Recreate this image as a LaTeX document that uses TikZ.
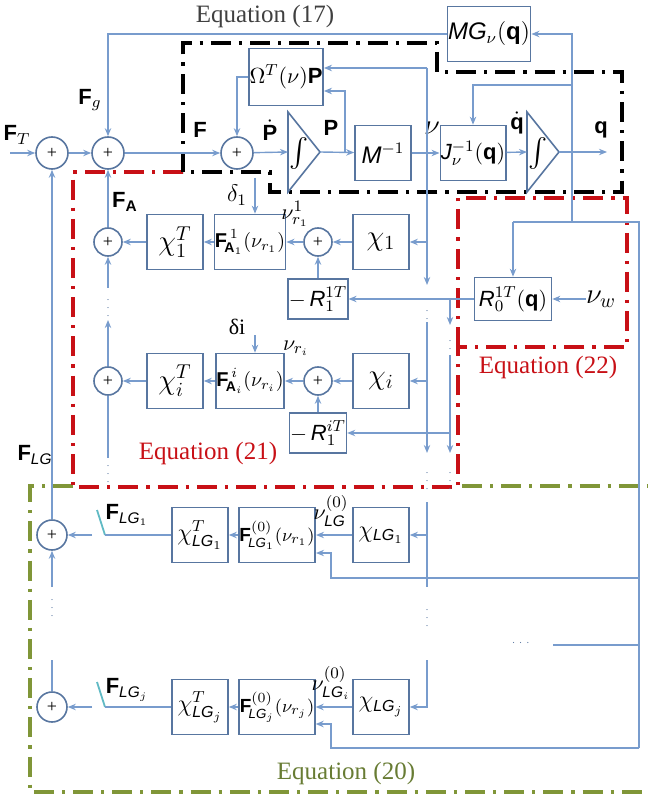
\documentclass[tikz,border=0pt]{standalone}
\usepackage{amsmath}
\usepackage{fontspec}
\setmainfont{Liberation Serif}
\newfontfamily\arialfont{Liberation Sans}
\usetikzlibrary{positioning,arrows.meta,calc}

\definecolor{wireblue}{RGB}{120,156,205}
\definecolor{boxblue}{RGB}{88,118,160}
\definecolor{eqred}{RGB}{200,16,22}
\definecolor{eqgreen}{RGB}{128,150,56}
\definecolor{eqtextgreen}{RGB}{104,124,52}
\definecolor{switchcol}{RGB}{96,186,196}

\newcommand{\bv}[1]{\text{\arialfont\bfseries #1}}
\newcommand{\si}[1]{\text{\arialfont\itshape #1}}

\begin{document}
\begin{tikzpicture}[x=0.5pt, y=-0.5pt,
    font=\fontsize{11}{13}\selectfont,
    blk/.style={draw=boxblue, line width=0.8pt, fill=white, minimum width=#1,
                minimum height=27.5pt, inner sep=0.3pt},
    blk/.default=28pt,
    sumnode/.style={circle, draw=boxblue, line width=0.8pt, fill=white,
                    minimum size=#1, inner sep=0pt, font=\small},
    sumnode/.default=14pt,
    integline/.style={draw=boxblue, line width=0.8pt, fill=white},
    wire/.style={draw=wireblue, line width=0.7pt},
    arr/.style={wire, -{Stealth[length=4pt, width=3.2pt]}},
    lbl/.style={inner sep=0pt},
    vdotsn/.style={inner sep=0pt, text=boxblue, font=\tiny},
    eqline/.style={line width=1.6pt, dash pattern=on 10pt off 4pt on 1.6pt off 4pt},
    eqlabel/.style={inner sep=0pt, font=\fontsize{12.5}{15}\selectfont},
    smallmath/.style={font=\fontsize{10}{12}\selectfont},
  ]
  \useasboundingbox (0,0) rectangle (650,796);

  % equation frames
  \draw[eqline, eqgreen] (73,486) -- (30,486) -- (30,792) -- (648,792);
  \draw[eqline, eqgreen] (462,486) -- (648,486);
  \draw[eqline, eqred] (183,172) -- (73,172) -- (73,487) -- (458,487) -- (458,347);
  \draw[eqline, eqred] (458,347) -- (458,198) -- (627,198) -- (627,347) -- cycle;
  \draw[eqline, black] (183,172) -- (183,43) -- (437,43) -- (437,72) -- (622,72)
      -- (622,192) -- (270,192) -- (270,172) -- cycle;

  \node[eqlabel, text=black!75] (eq17) at (265,16) {Equation (17)};
  \node[eqlabel, text=eqred] (eq22) at (548,367) {Equation (22)};
  \node[eqlabel, text=eqred] (eq21) at (208,453) {Equation (21)};
  \node[eqlabel, text=eqtextgreen] (eq20) at (346,773) {Equation (20)};

  % top loop
  \node[sumnode=16pt] (s1) at (52,153) {+};
  \node[sumnode=16pt] (s2) at (108,153) {+};
  \node[sumnode=16pt] (s3) at (237,153) {+};
  \coordinate (int1in) at (288,152);
  \coordinate (int1out) at (320,152);
  \draw[integline] (288,112) -- (int1out) -- (288,192) -- cycle;
  \node[lbl] (int1) at (299,154) {\Large$\int$};
  \node[blk] (minv) at (383,153) {\large$\si{M}^{-1}$};
  \node[blk=28.5pt] (jinv) at (473,153) {$\si{J}_{\nu}^{-1}(\bv{q})$};
  \coordinate (int2in) at (527,152);
  \coordinate (int2out) at (559,152);
  \draw[integline] (527,112) -- (int2out) -- (527,192) -- cycle;
  \node[lbl] (int2) at (538,154) {\Large$\int$};
  \node[blk=34pt, minimum height=28.5pt] (om) at (286,77) {$\Omega^{T}(\nu)\bv{P}$};
  \node[blk=39pt] (mg) at (489,34) {\large$\si{MG}_{\nu}(\bv{q})$};

  % row 1
  \node[sumnode] (sa1) at (108,242) {+};
  \node[blk] (chiT1) at (175,242) {\Large$\chi_{1}^{T}$};
  \node[blk=33pt, smallmath] (fa1) at (250,242) {$\bv{F}_{\!\bv{A}_1}^{\,1}(\nu_{r_1})$};
  \node[sumnode] (sb1) at (318,242) {+};
  \node[blk] (chi1) at (381,242) {\Large$\chi_{1}$};
  \node[blk=27pt, minimum height=20pt] (r1) at (318,299) {$-\,\si{R}_{1}^{1T}$};
  \node[blk=38.5pt, minimum height=21.5pt] (r0) at (513,299) {$\si{R}_{0}^{1T}(\bv{q})$};
  \node[lbl] (nuw) at (601,299) {\Large$\nu_{w}$};

  % row i
  \node[sumnode] (sai) at (108,381) {+};
  \node[blk] (chiTi) at (175,381) {\Large$\chi_{i}^{T}$};
  \node[blk=33pt, smallmath] (fai) at (250,381) {$\bv{F}_{\!\bv{A}_i}^{\,i}(\nu_{r_i})$};
  \node[sumnode] (sbi) at (318,381) {+};
  \node[blk] (chii) at (381,381) {\Large$\chi_{i}$};
  \node[blk=27pt, minimum height=20pt] (ri) at (318,433) {$-\,\si{R}_{1}^{iT}$};

  % landing gear rows
  \node[sumnode=15pt] (sl1) at (52,535) {+};
  \node[blk] (chiTl1) at (200,535) {\large$\chi_{\si{LG}_1}^{T}$};
  \node[blk=33pt, font=\fontsize{9.5}{11}\selectfont] (fl1) at (277,535) {$\bv{F}_{\!\si{LG}_1}^{(0)}(\nu_{r_1})$};
  \node[blk] (chil1) at (381,535) {\large$\chi_{\si{LG}_1}$};
  \node[sumnode=15pt] (slj) at (52,707) {+};
  \node[blk] (chiTlj) at (200,707) {\large$\chi_{\si{LG}_j}^{T}$};
  \node[blk=33pt, font=\fontsize{9.5}{11}\selectfont] (flj) at (277,707) {$\bv{F}_{\!\si{LG}_j}^{(0)}(\nu_{r_j})$};
  \node[blk] (chilj) at (381,707) {\large$\chi_{\si{LG}_j}$};

  % labels
  \node[lbl] (lFT) at (17,135) {$\bv{F}_{T}$};
  \node[lbl] (lFg) at (90,100) {$\bv{F}_{g}$};
  \node[lbl] (lF) at (200,130) {\bv{F}};
  \node[lbl] (lPd) at (270,130) {$\dot{\bv{P}}$};
  \node[lbl] (lP) at (331,128) {\bv{P}};
  \node[lbl] (lnu) at (432,128) {\Large$\nu$};
  \node[lbl] (lqd) at (517,123) {$\dot{\bv{q}}$};
  \node[lbl] (lq) at (601,130) {\bv{q}};
  \node[lbl] (lFA) at (125,202) {$\bv{F}_{\bv{A}}$};
  \node[lbl] (ld1) at (237,195) {\large$\delta_{1}$};
  \node[lbl] (lnr1) at (295,214) {$\nu_{r_1}^{1}$};
  \node[lbl] (ldi) at (237,327) {δi};
  \node[lbl] (lnri) at (296,348) {$\nu_{r_i}$};
  \node[lbl] (lFLG) at (35,455) {$\bv{F}_{\si{LG}}$};
  \node[lbl] (lFl1) at (127,515) {$\bv{F}_{\si{LG}_1}$};
  \node[lbl] (lnl1) at (331,511) {$\nu_{\si{LG}}^{(0)}$};
  \node[lbl] (lFlj) at (127,690) {$\bv{F}_{\si{LG}_j}$};
  \node[lbl] (lnlj) at (331,683) {$\nu_{\si{LG}_i}^{(0)}$};
  \node[lbl, text=boxblue] (ldots) at (522,643) {\tiny$\cdots$};

  \node[vdotsn] (v1) at (108,302) {$\vdots$};
  \node[vdotsn] (v2) at (108,468) {$\vdots$};
  \node[vdotsn] (v3) at (427,313) {$\vdots$};
  \node[vdotsn] (v4) at (450,343) {$\vdots$};
  \node[vdotsn] (v5) at (427,475) {$\vdots$};
  \node[vdotsn] (v6) at (450,475) {$\vdots$};
  \node[vdotsn] (v7) at (52,602) {$\vdots$};
  \node[vdotsn] (v8) at (427,612) {$\vdots$};

  % forward path
  \coordinate (fin) at (10,153);
  \coordinate (qout) at (607,152);
  \draw[arr] (fin) -- (s1);
  \draw[arr] (s1) -- (s2);
  \draw[arr] (s2) -- (s3);
  \draw[arr] (s3) -- (int1in);
  \draw[arr] (int1out) -- (minv);
  \draw[arr] (minv) -- (jinv);
  \draw[arr] (jinv) -- (int2in);
  \draw[arr] (int2out) -- (qout);

  % feedback of q, P and nu
  \draw[arr] (572,152) |- (mg.east);
  \draw[arr] (mg.west) -| (s2.north);
  \draw[arr] (572,85) -| (jinv.north);
  \draw[arr] (345,152) |- ($(om.east)+(0,14)$);
  \draw[arr] (427,68) -- ($(om.east)+(0,-9)$);
  \draw[arr] (427,68) -- (427,285);
  \draw[arr] (om.west) -| (s3.north);
  \draw[wire] (572,152) -- (572,222);
  \draw[wire] (513,222) -- (639,222) -- (639,748);
  \draw[arr] (513,222) -- (r0.north);

  % aerodynamic rows
  \draw[arr] (427,242) -- (chi1);
  \draw[arr] (chi1) -- (sb1);
  \draw[arr] (r1) -- (sb1);
  \draw[arr] (sb1) -- (fa1);
  \draw[arr] (fa1) -- (chiT1);
  \draw[arr] (chiT1) -- (sa1);
  \coordinate (dlt1) at (255,178);
  \draw[arr] (dlt1) -- (dlt1 |- fa1.north);
  \draw[arr] (nuw) -- (r0);
  \draw[arr] (r0) -- (r1);
  \draw[arr] (450,299) -- (450,325);
  \draw[arr] (sa1) -- (s2);
  \draw[arr] (108,288) -- (sa1);
  \draw[arr] (sai) -- (108,320);
  \draw[wire] (sai) -- (108,458);

  \draw[arr] (427,322) -- (427,453);
  \draw[arr] (427,381) -- (chii);
  \draw[arr] (450,355) -- (450,453);
  \draw[arr] (450,433) -- (ri);
  \draw[arr] (chii) -- (sbi);
  \draw[arr] (ri) -- (sbi);
  \draw[arr] (sbi) -- (fai);
  \draw[arr] (fai) -- (chiTi);
  \draw[arr] (chiTi) -- (sai);
  \coordinate (dlti) at (255,335);
  \draw[arr] (dlti) -- (dlti |- fai.north);

  % landing gear rows
  \draw[arr] (sl1) -- (s1);
  \draw[arr] (52,587) -- (sl1);
  \draw[arr] (92,535) -- (sl1);
  \draw[switchcol, line width=0.9pt] (97,510) -- (105,535);
  \draw[wire] (105,535) -- (chiTl1);
  \draw[arr] (fl1) -- (chiTl1);
  \draw[arr] (chil1) -- (fl1);
  \draw[wire] (427,502) -- (427,587);
  \draw[arr] (427,535) -- (chil1);
  \draw[arr] (639,578) -| (331,553) -- ($(fl1.east)+(0,18)$);
  \draw[wire] (553,645) -- (639,645);

  \draw[wire] (52,660) -- (slj);
  \draw[arr] (92,707) -- (slj);
  \draw[switchcol, line width=0.9pt] (97,682) -- (105,707);
  \draw[wire] (105,707) -- (chiTlj);
  \draw[arr] (flj) -- (chiTlj);
  \draw[arr] (chilj) -- (flj);
  \draw[arr] (427,660) |- (chilj);
  \draw[arr] (639,748) -| (331,724) -- ($(flj.east)+(0,17)$);
\end{tikzpicture}
\end{document}
